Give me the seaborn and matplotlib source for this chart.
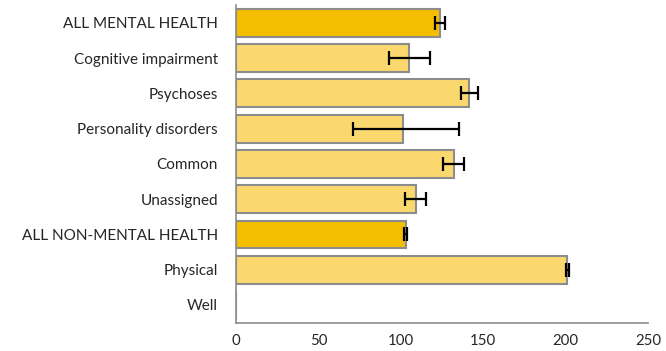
import seaborn as sns
import matplotlib.pyplot as plt
import pandas as pd

categories = [
    "ALL MENTAL HEALTH",
    "Cognitive impairment",
    "Psychoses",
    "Personality disorders",
    "Common",
    "Unassigned",
    "ALL NON-MENTAL HEALTH",
    "Physical",
    "Well",
]
values = [124, 105, 141.5, 101, 132, 109, 103, 201, 0]
err_low = [3, 12.5, 5, 30, 6.5, 6.5, 1, 1, 0]
err_high = [3, 12.5, 5.5, 34.5, 6.5, 6.5, 1, 1, 0]
is_total = [True, False, False, False, False, False, True, False, False]

df = pd.DataFrame({"category": categories, "value": values,
                   "group": ["total" if t else "sub" for t in is_total]})

sns.set_style("white")
plt.rcParams["font.family"] = ["Lato", "DejaVu Sans"]

fig = plt.figure(figsize=(6.66, 3.51), dpi=100)
ax = fig.add_axes([0.3545, 0.081, 0.6185, 0.904])

sns.barplot(
    data=df, x="value", y="category", hue="group", order=categories,
    palette={"total": "#F5BE00", "sub": "#FBD86E"}, dodge=False, saturation=1,
    width=0.79, edgecolor="#8C8C8C", linewidth=1.5, legend=False, ax=ax,
)

shown = [i for i, v in enumerate(values) if v > 0]
ax.errorbar(
    [values[i] for i in shown], shown,
    xerr=[[err_low[i] for i in shown], [err_high[i] for i in shown]],
    fmt="none", ecolor="black", elinewidth=1.6, capsize=5, capthick=1.6,
)

ax.set_xlim(0, 250)
ax.set_ylim(len(categories) - 0.5, -0.5)
ax.set_xticks([0, 50, 100, 150, 200, 250])
ax.set_xlabel("")
ax.set_ylabel("")
for side in ["top", "right"]:
    ax.spines[side].set_visible(False)
for side in ["left", "bottom"]:
    ax.spines[side].set_color("#8C8C8C")
    ax.spines[side].set_linewidth(1.2)
ax.tick_params(axis="x", direction="out", length=5, color="#8C8C8C",
               width=1.2, labelsize=10.8, pad=3)
ax.tick_params(axis="y", length=0, labelsize=11, pad=13)

fig.savefig("out.png", dpi=100)
